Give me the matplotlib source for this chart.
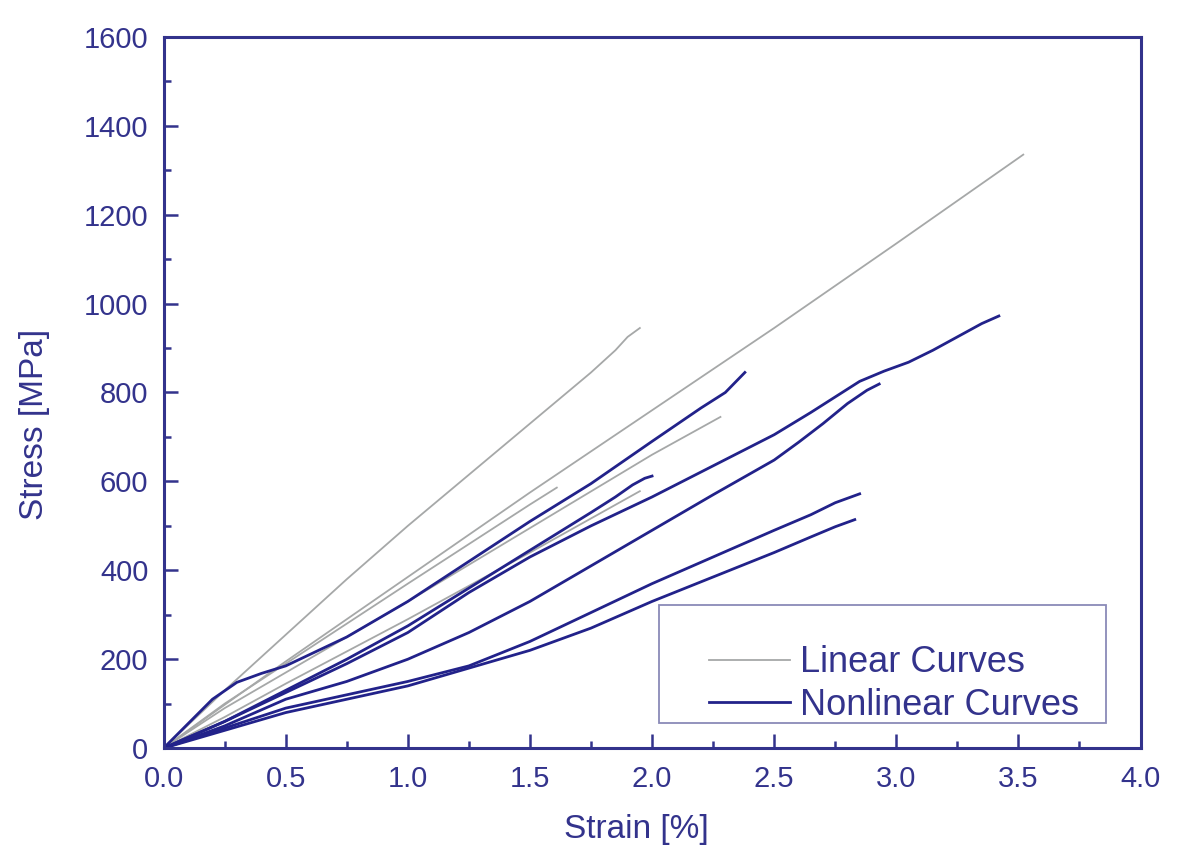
import matplotlib
matplotlib.use("Agg")
import matplotlib.pyplot as plt
from matplotlib.patches import Rectangle
from matplotlib.ticker import MultipleLocator

plt.rcParams["font.family"] = ["Liberation Sans", "DejaVu Sans"]

NAVY = "#33338c"
LINE_NAVY = "#22228a"
GRAY = "#a6a8a8"

# linear curves (strain %, stress MPa)
lin_x = [
    [0, 0.25, 0.5, 0.75, 1.0, 1.25, 1.5, 1.75, 1.85, 1.9, 1.95],
    [0, 0.5, 1.0, 1.5, 2.0, 2.5, 3.0, 3.52],
    [0, 0.25, 0.5, 1.0, 1.5, 1.61],
    [0, 0.25, 0.5, 1.0, 1.5, 2.0, 2.28],
    [0, 0.25, 0.5, 1.0, 1.5, 1.95],
]
lin_y = [
    [0, 130, 255, 380, 500, 615, 730, 845, 895, 925, 945],
    [0, 195, 385, 575, 760, 945, 1135, 1335],
    [0, 100, 190, 370, 548, 586],
    [0, 90, 170, 330, 495, 660, 745],
    [0, 70, 145, 290, 440, 578],
]

# nonlinear curves
nl_x = [
    [0, 0.1, 0.2, 0.3, 0.4, 0.5, 0.75, 1.0, 1.25, 1.5, 1.75, 2.0, 2.2, 2.3, 2.38],
    [0, 0.25, 0.5, 0.75, 1.0, 1.25, 1.5, 1.75, 1.85, 1.92, 1.97, 2.0],
    [0, 0.25, 0.5, 0.75, 1.0, 1.25, 1.5, 1.75, 2.0, 2.25, 2.5, 2.65, 2.75, 2.85,
     2.95, 3.05, 3.15, 3.25, 3.35, 3.42],
    [0, 0.25, 0.5, 0.75, 1.0, 1.25, 1.5, 1.75, 2.0, 2.25, 2.5, 2.6, 2.7, 2.8,
     2.88, 2.93],
    [0, 0.25, 0.5, 0.75, 1.0, 1.25, 1.5, 1.75, 2.0, 2.25, 2.5, 2.65, 2.75, 2.85],
    [0, 0.25, 0.5, 0.75, 1.0, 1.25, 1.5, 1.75, 2.0, 2.25, 2.5, 2.65, 2.75, 2.83],
]
nl_y = [
    [0, 55, 110, 148, 168, 185, 250, 330, 420, 510, 595, 690, 765, 800, 845],
    [0, 60, 130, 200, 275, 360, 445, 530, 565, 592, 607, 612],
    [0, 60, 125, 190, 260, 350, 430, 500, 565, 635, 705, 755, 790, 825,
     848, 868, 895, 925, 955, 972],
    [0, 50, 110, 150, 200, 260, 330, 410, 490, 570, 648, 688, 730, 775,
     805, 819],
    [0, 45, 90, 120, 150, 185, 240, 305, 370, 430, 490, 525, 552, 572],
    [0, 40, 80, 110, 140, 180, 220, 270, 330, 385, 440, 475, 498, 514],
]

fig = plt.figure(figsize=(11.77, 8.56), dpi=100)
ax = fig.add_axes([0.139, 0.126, 0.830, 0.831])

for i, (x, y) in enumerate(zip(lin_x, lin_y)):
    ax.plot(x, y, color=GRAY, lw=1.3, label="Linear Curves" if i == 0 else None)
for i, (x, y) in enumerate(zip(nl_x, nl_y)):
    ax.plot(x, y, color=LINE_NAVY, lw=2.0, label="Nonlinear Curves" if i == 0 else None)

ax.set_xlim(0, 4.0)
ax.set_ylim(0, 1600)
ax.xaxis.set_major_locator(MultipleLocator(0.5))
ax.xaxis.set_minor_locator(MultipleLocator(0.25))
ax.yaxis.set_major_locator(MultipleLocator(200))
ax.yaxis.set_minor_locator(MultipleLocator(100))
ax.xaxis.set_major_formatter(lambda v, p: f"{v:.1f}")

ax.tick_params(which="both", direction="in", colors=NAVY, labelcolor=NAVY,
               labelsize=21, width=1.8)
ax.tick_params(which="major", length=10)
ax.tick_params(which="minor", length=5)
ax.tick_params(axis="x", which="major", pad=12)
ax.tick_params(axis="y", which="major", pad=11)
for s in ax.spines.values():
    s.set_color(NAVY)
    s.set_linewidth(2.2)

ax.set_xlabel("Strain [%]", color=NAVY, fontsize=24)
ax.set_ylabel("Stress [MPa]", color=NAVY, fontsize=24)
ax.xaxis.set_label_coords(0.484, -0.092)
ax.yaxis.set_label_coords(-0.116, 0.455)

# legend box drawn separately: the entries sit at the bottom of a taller frame
ax.add_patch(Rectangle((0.507, 0.035), 0.458, 0.166, transform=ax.transAxes,
                       fill=False, edgecolor="#8a8ab8", lw=1.3, zorder=5))
leg = ax.legend(loc="lower left", bbox_to_anchor=(0.558, 0.036), fontsize=26,
                frameon=False, handlelength=2.25, borderpad=0.0,
                labelspacing=0.2, handletextpad=0.28, borderaxespad=0)
for t in leg.get_texts():
    t.set_color(NAVY)

fig.savefig("out.png", dpi=100)
